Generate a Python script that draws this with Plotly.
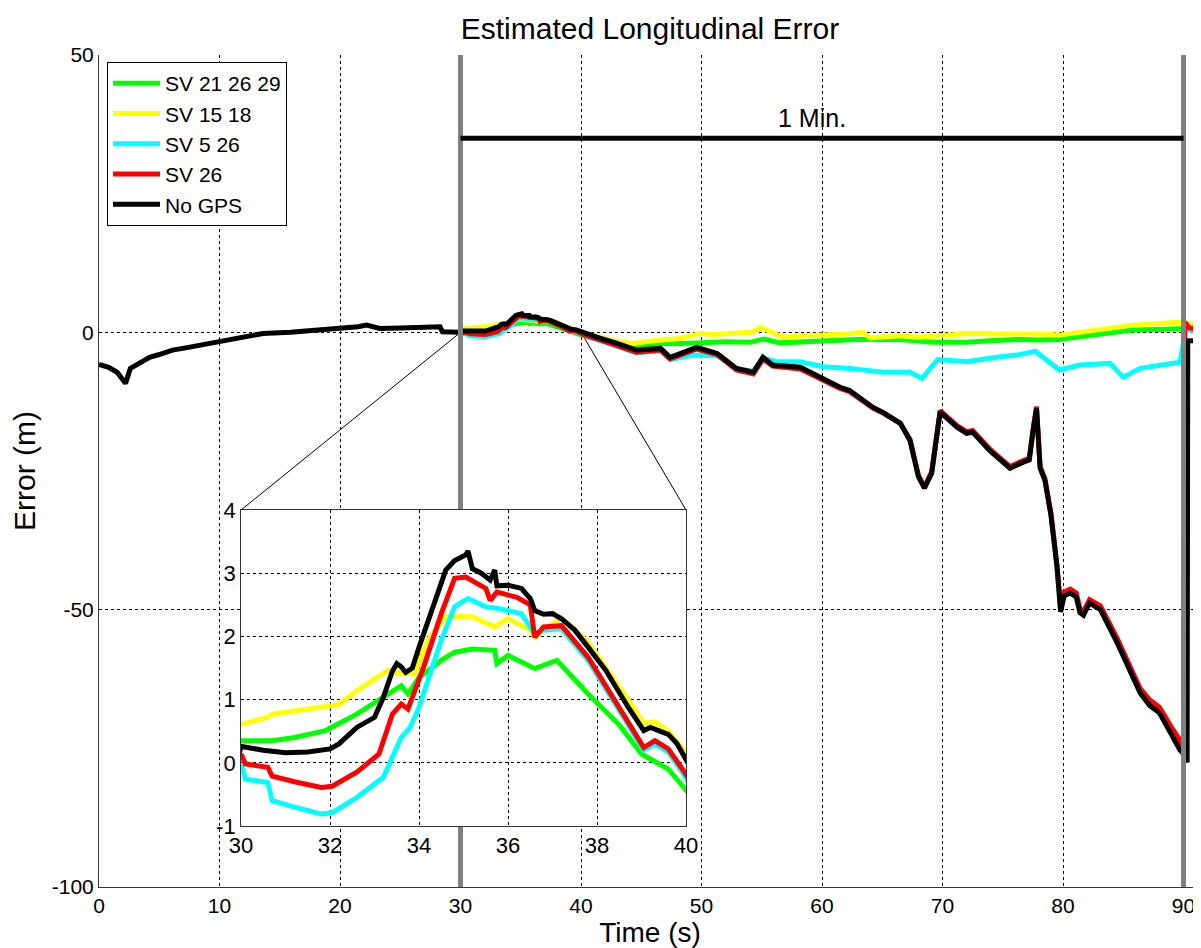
import plotly.graph_objects as go

# ---------------- data ----------------
black_x = [0, 0.8, 1.5, 2.2, 2.6, 3.2, 4.2, 5, 6.1, 7.2, 8.4, 10, 11.7, 13.6, 15.9, 18.6, 20.2, 21.5, 22.2, 23.3, 25, 26.9, 28.3, 28.5, 29.9,
           30.0, 30.5, 31.0, 31.5, 32.0, 32.2, 32.6, 33.0, 33.2, 33.4, 33.5, 33.6, 33.7, 33.85, 34.0, 34.3, 34.6, 34.8, 35.05, 35.1, 35.2, 35.4, 35.6, 35.7, 35.75, 36.0, 36.3, 36.5, 36.6, 36.8, 37.0, 37.2, 37.5, 37.8, 38.2, 38.7, 39.05, 39.2, 39.6, 39.8, 39.95,
           40.2, 41.5, 43, 44.6, 46.6, 47.4, 49.6, 51.3, 52.9, 54.3, 55.1, 55.9, 58.2, 59.8, 61.5, 62.3, 64.2, 65.1, 66.5, 67.3, 68.0, 68.5, 69.1, 69.8, 71.2, 72.0, 72.5, 73.9, 75.6, 76.7, 77.2, 77.5, 77.8, 78.1, 78.5, 79.0, 79.5, 79.8, 80.1, 80.6, 81.1, 81.4, 81.7, 82.2, 83.1, 84.5, 85.5, 86.4, 87.2, 88, 89.0, 89.7, 90.0, 90.3, 90.35, 91.45]
black_y = [-5.8, -6.3, -7.2, -9.2, -6.5, -5.8, -4.5, -4.0, -3.2, -2.8, -2.3, -1.8, -0.9, -0.2, 0.0, 0.4, 0.7, 1.0, 1.3, 0.7, 0.8, 0.9, 1.0, 0.1, 0.0,
           0.26, 0.2, 0.16, 0.17, 0.22, 0.3, 0.56, 0.72, 1.04, 1.45, 1.57, 1.52, 1.43, 1.5, 1.83, 2.47, 3.05, 3.2, 3.29, 3.35, 3.07, 3.0, 2.89, 3.05, 2.8, 2.81, 2.76, 2.6, 2.41, 2.35, 2.36, 2.28, 2.1, 1.83, 1.46, 0.88, 0.51, 0.56, 0.45, 0.3, 0.11,
           -0.2, -1.0, -2.0, -3.2, -2.9, -4.5, -2.7, -3.8, -6.5, -7.2, -4.5, -5.9, -6.3, -8.1, -9.9, -10.5, -13.5, -14.5, -16.4, -19.5, -26, -28.1, -25.4, -14.4, -17.1, -18.2, -18.0, -21.3, -24.5, -23.4, -23.0, -18, -13.7, -24.5, -26.7, -33, -42.3, -50.4, -47.5, -47, -47.7, -50.5, -51, -48.8, -50, -56, -61, -65, -67.3, -68.6, -72.5, -75.3, -76, -77.5, -1.5, -1.5]

red_x = [30.0, 30.1, 30.6, 30.7, 31.2, 31.8, 32.05, 32.6, 33.1, 33.4, 33.6, 33.75, 34.1, 34.5, 34.8, 35.05, 35.5, 35.6, 35.75, 36.2, 36.5, 36.6, 36.8, 37.2, 37.8, 38.6, 39.05, 39.3, 39.6, 39.95,
         40.2, 41.5, 43, 44.6, 46.6, 47.4, 49.6, 51.3, 52.9, 54.3, 55.1, 55.9, 58.2, 59.8, 61.5, 62.3, 64.2, 65.1, 66.5, 67.3, 68.0, 68.5, 69.1, 69.8, 71.2, 72.0, 72.5, 73.9, 75.6, 76.7, 77.2, 77.5, 77.8, 78.1, 78.5, 79.0, 79.5, 79.8, 80.1, 80.6, 81.1, 81.4, 81.7, 82.2, 83.1, 84.5, 85.5, 86.4, 87.2, 88, 89.0, 89.7, 90.0, 90.1, 90.5, 91.45]
red_y = [0.14, -0.02, -0.07, -0.21, -0.3, -0.39, -0.37, -0.15, 0.14, 0.77, 0.93, 0.85, 1.51, 2.36, 2.92, 2.94, 2.76, 2.57, 2.7, 2.62, 2.5, 1.99, 2.15, 2.17, 1.67, 0.77, 0.24, 0.35, 0.22, -0.13,
         -0.4, -1.3, -2.4, -3.6, -3.2, -4.8, -3.0, -4.0, -6.8, -7.5, -4.8, -6.1, -6.6, -8.4, -10.1, -10.7, -13.6, -14.6, -16.4, -19.3, -25.8, -27.9, -25.1, -14.1, -16.8, -17.9, -17.7, -21.0, -24.2, -23.1, -22.7, -17.7, -13.4, -24.2, -26.4, -32.7, -42.0, -49.8, -46.8, -46.3, -47.0, -49.8, -50.3, -48.2, -49.3, -55.2, -60.2, -64.2, -66.3, -67.6, -71.2, -73.8, -74.5, 1.8, 0.8, 0.5]

cyan_x = [30.0, 30.1, 30.6, 30.7, 31.2, 31.8, 32.05, 32.6, 33.2, 33.6, 33.8, 34.0, 34.5, 34.8, 35.1, 35.5, 35.8, 36.3, 36.6, 36.8, 37.2, 37.8, 38.6, 39.05, 39.3, 39.6, 39.95,
          40.2, 43, 44.6, 46.6, 47.4, 49.3, 51.3, 52.9, 54.3, 55.1, 56.2, 58.2, 60.1, 62.3, 65.1, 67.3, 68.3, 69.6, 72.0, 74.8, 76.2, 77.7, 79.7, 81.4, 83.9, 85.0, 86.4, 89.7, 90.2, 91.45]
cyan_y = [-0.02, -0.26, -0.31, -0.6, -0.7, -0.81, -0.79, -0.55, -0.23, 0.4, 0.56, 0.88, 1.94, 2.47, 2.6, 2.47, 2.44, 2.36, 2.04, 2.1, 2.12, 1.62, 0.72, 0.2, 0.3, 0.17, -0.18,
          -0.5, -2.5, -3.7, -3.3, -4.9, -4.1, -4.2, -6.6, -7.0, -4.6, -5.3, -5.3, -6.2, -6.5, -7.2, -7.2, -8.3, -4.9, -5.3, -4.4, -4.1, -3.4, -6.8, -5.9, -5.6, -8.1, -6.5, -5.4, 0.5, 0.2]

yellow_x = [30.0, 30.6, 30.7, 31.5, 32.2, 32.6, 33.3, 33.6, 33.9, 34.2, 34.6, 35.2, 35.7, 36.0, 36.5, 36.6, 37.2, 37.8, 38.3, 38.7, 39.05, 39.3, 39.6, 39.95,
            40.2, 41.5, 43, 44.3, 46.0, 48.2, 49.9, 51.0, 52.4, 54.2, 54.9, 55.6, 56.8, 58.5, 60.1, 62.0, 63.4, 64.0, 66.5, 67.9, 70.6, 72.0, 74.5, 76.2, 78.0, 79.7, 82.0, 84.0, 85.8, 88.0, 89.7, 91.45]
yellow_y = [0.61, 0.72, 0.77, 0.85, 0.92, 1.14, 1.46, 1.41, 1.41, 1.94, 2.31, 2.31, 2.15, 2.28, 2.1, 1.99, 2.3, 1.9, 1.41, 1.0, 0.62, 0.65, 0.5, 0.2,
            -0.2, -0.9, -1.6, -2.0, -1.5, -1.1, -0.2, -0.4, -0.2, 0.0, 0.9, 0.2, -0.9, -0.6, -0.5, -0.3, 0.0, -1.0, -0.6, -0.9, -0.5, -0.2, -0.3, -0.2, -0.3, -0.5, 0.2, 0.9, 1.3, 1.6, 1.8, 1.3]

green_x = [30.0, 30.7, 31.2, 31.9, 32.6, 33.3, 33.6, 33.75, 34.0, 34.5, 34.8, 35.2, 35.7, 35.75, 36.0, 36.6, 37.1, 37.8, 38.5, 39.0, 39.3, 39.6, 39.95,
           40.2, 41.5, 43, 44.6, 46.5, 48.5, 49.9, 52.0, 54.0, 55.2, 56.5, 58.5, 60.5, 63.0, 65.1, 66.5, 69.2, 72.0, 74.0, 76.2, 78.0, 79.7, 82.0, 84.0, 85.8, 88.0, 89.7, 91.45]
green_y = [0.35, 0.35, 0.4, 0.51, 0.77, 1.09, 1.22, 1.09, 1.35, 1.62, 1.75, 1.8, 1.78, 1.57, 1.7, 1.49, 1.62, 1.09, 0.6, 0.14, 0.03, -0.1, -0.39,
           -0.6, -1.3, -2.1, -2.4, -2.0, -2.0, -1.8, -1.7, -1.8, -1.2, -1.9, -1.6, -1.5, -1.3, -1.3, -1.3, -1.8, -1.8, -1.5, -1.3, -1.4, -1.3, -0.6, 0.0, 0.4, 0.5, 0.6, 0.8]

series = [
    ("SV 21 26 29", green_x, green_y, "#00FF00"),
    ("SV 15 18", yellow_x, yellow_y, "#FFFF00"),
    ("SV 5 26", cyan_x, cyan_y, "#00FFFF"),
    ("SV 26", red_x, red_y, "#FF0000"),
    ("No GPS", black_x, black_y, "#000000"),
]

gps_outage_marks = [30, 90]      # grey vertical markers (s)
minute_bar_y = 35                # level of the "1 Min." bar
minute_label = "1 Min."
zoom_window = [30, 40]           # inset x range
zoom_yrange = [-1, 4]            # inset y range

main_xrange = [0, 91.45]
main_yrange = [-100, 50]
x_ticks = list(range(0, 91, 10))
y_ticks = [-100, -50, 0, 50]
inset_xticks = [30, 32, 34, 36, 38, 40]
inset_yticks = [-1, 0, 1, 2, 3, 4]

# ---------------- layout geometry ----------------
# page body has an 8px margin, so the figure is drawn at (8, 8)
W, H = 1193, 940
ML, MR, MT, MB = 91, 0, 47, 61
inset_dom_x = [0.1289, 0.5327]
inset_dom_y = [0.0733, 0.4531]

FONT = "Arial, Liberation Sans, sans-serif"

fig = go.Figure()

def paper_to_data_x(p):
    return main_xrange[0] + p * (main_xrange[1] - main_xrange[0])

def paper_to_data_y(p):
    return main_yrange[0] + p * (main_yrange[1] - main_yrange[0])

# connector lines from the zoom window on the main axes to the inset corners
for zx, px in [(zoom_window[0], inset_dom_x[0]), (zoom_window[1], inset_dom_x[1])]:
    fig.add_trace(go.Scatter(
        x=[zx, paper_to_data_x(px)], y=[0, paper_to_data_y(inset_dom_y[1])],
        mode="lines", line=dict(color="black", width=1),
        showlegend=False, hoverinfo="skip", xaxis="x", yaxis="y"))

# main series
for name, xs, ys, col in series:
    fig.add_trace(go.Scatter(x=xs, y=ys, mode="lines", name=name,
                             line=dict(color=col, width=5),
                             xaxis="x", yaxis="y"))

# grey vertical markers
for xv in gps_outage_marks:
    fig.add_trace(go.Scatter(x=[xv, xv], y=main_yrange, mode="lines",
                             line=dict(color="#808080", width=5),
                             showlegend=False, hoverinfo="skip",
                             xaxis="x", yaxis="y"))

# 1 minute bar
fig.add_trace(go.Scatter(x=gps_outage_marks, y=[minute_bar_y, minute_bar_y], mode="lines",
                         line=dict(color="black", width=5),
                         showlegend=False, hoverinfo="skip", xaxis="x", yaxis="y"))

# inset series
for name, xs, ys, col in series:
    fig.add_trace(go.Scatter(x=xs, y=ys, mode="lines", name=name,
                             line=dict(color=col, width=5),
                             showlegend=False, xaxis="x2", yaxis="y2"))

def common(size):
    return dict(showgrid=True, gridcolor="black", gridwidth=1, griddash="3px,3px",
                zeroline=False, showline=True, linecolor="#333333", linewidth=1,
                ticks="", automargin=False,
                tickfont=dict(family=FONT, size=size, color="black"))

fig.update_layout(
    width=W, height=H,
    margin=dict(l=ML, r=MR, t=MT, b=MB, autoexpand=False),
    paper_bgcolor="white", plot_bgcolor="white",
    font=dict(family=FONT, color="black"),
    title=dict(text="Estimated Longitudinal Error", x=0.5, xref="paper",
               y=1 - 20 / H, yref="container", yanchor="middle",
               font=dict(family=FONT, size=30, color="black")),
    xaxis=dict(domain=[0, 1], range=main_xrange, tickvals=x_ticks,
               ticktext=[str(v) for v in x_ticks],
               title=dict(text="Time (s)", font=dict(family=FONT, size=28, color="black"), standoff=0),
               anchor="y", **common(21)),
    yaxis=dict(domain=[0, 1], range=main_yrange, tickvals=y_ticks,
               ticktext=[str(v) for v in y_ticks],
               title=dict(text="Error (m)", font=dict(family=FONT, size=30, color="black"), standoff=8),
               anchor="x", **common(21)),
    xaxis2=dict(domain=inset_dom_x, range=zoom_window, tickvals=inset_xticks,
                ticktext=[str(v) for v in inset_xticks],
                anchor="y2", mirror=True, **common(22)),
    yaxis2=dict(domain=inset_dom_y, range=zoom_yrange, tickvals=inset_yticks,
                ticktext=[str(v) for v in inset_yticks],
                anchor="x2", mirror=True, **common(22)),
    legend=dict(x=0.0073, y=0.9916, xanchor="left", yanchor="top",
                bgcolor="white", bordercolor="black", borderwidth=1,
                font=dict(family=FONT, size=21, color="black"),
                itemwidth=47, tracegroupgap=0),
    annotations=[dict(text=minute_label, x=sum(gps_outage_marks) / 2 - 0.8, y=minute_bar_y,
                      xref="x", yref="y", yanchor="bottom", yshift=4, showarrow=False,
                      font=dict(family=FONT, size=25, color="black"))],
    showlegend=True,
)

fig.write_html("out.html")
